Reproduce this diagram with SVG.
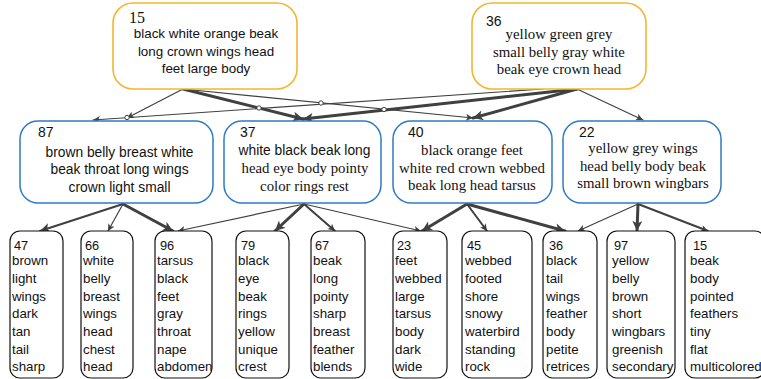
<svg xmlns="http://www.w3.org/2000/svg" width="761" height="379" viewBox="0 0 761 379">
  <style>
    .top { fill: #ffffff; stroke: #F4B630; stroke-width: 1.6; }
    .mid { fill: #ffffff; stroke: #2F7BC4; stroke-width: 1.5; }
    .leaf { fill: #ffffff; stroke: #111111; stroke-width: 1.2; }
    .sans { font-family: "Liberation Sans", Arial, sans-serif; fill: #111111; }
    .serif { font-family: "Liberation Serif", "Times New Roman", serif; fill: #111111; }
    .num { font-size: 14px; }
    .snum { font-size: 16px; }
    .ms { font-size: 13.8px; text-anchor: middle; }
    .mr { font-size: 14.8px; text-anchor: middle; }
    .lf { font-size: 13.3px; }
    .ln { font-size: 12.8px; }
    .e { fill: none; stroke: #404040; stroke-linecap: round; }
    .t1 { stroke-width: 1.2; }
    .t2 { stroke-width: 2; }
    .t3 { stroke-width: 3; }
    .hop { fill: #ffffff; stroke: #404040; stroke-width: 1; }
  </style>
  <defs>
    <marker id="arS" viewBox="0 0 10 10" refX="10" refY="5" markerUnits="userSpaceOnUse" markerWidth="8" markerHeight="7" orient="auto">
      <path d="M0,0 L10,5 L0,10 L2.5,5 z" fill="#404040"/>
    </marker>
    <marker id="arL" viewBox="0 0 10 10" refX="10" refY="5" markerUnits="userSpaceOnUse" markerWidth="11" markerHeight="10" orient="auto">
      <path d="M0,0 L10,5 L0,10 L2.5,5 z" fill="#404040"/>
    </marker>
  </defs>

  <!-- connectors -->
  <g id="connectors">
    <!-- upper level -->
    <line class="e t1" x1="183" y1="89" x2="127" y2="118" marker-end="url(#arS)"/>
    <line class="e t3" x1="183" y1="89" x2="303" y2="119" marker-end="url(#arL)"/>
    <line class="e t1" x1="183" y1="89" x2="473" y2="118" marker-end="url(#arS)"/>
    <line class="e t1" x1="543" y1="89" x2="93" y2="120" marker-end="url(#arS)"/>
    <line class="e t3" x1="577" y1="89" x2="303" y2="119" marker-end="url(#arL)"/>
    <line class="e t3" x1="577" y1="89" x2="473" y2="118" marker-end="url(#arL)"/>
    <line class="e t1" x1="577" y1="89" x2="643" y2="120" marker-end="url(#arS)"/>
    <!-- line hops -->
    <circle class="hop" cx="127" cy="117.5" r="2.2"/>
    <circle class="hop" cx="259" cy="108" r="2.2"/>
    <circle class="hop" cx="321" cy="103" r="2.2"/>
    <circle class="hop" cx="384" cy="109.5" r="2.2"/>
    <!-- lower level -->
    <line class="e t2" x1="123" y1="204" x2="40" y2="231" marker-end="url(#arL)"/>
    <line class="e t1" x1="123" y1="204" x2="108" y2="231" marker-end="url(#arS)"/>
    <line class="e t3" x1="123" y1="204" x2="173" y2="231" marker-end="url(#arL)"/>
    <line class="e t1" x1="304" y1="204" x2="178" y2="231" marker-end="url(#arS)"/>
    <line class="e t3" x1="304" y1="204" x2="275" y2="231" marker-end="url(#arL)"/>
    <line class="e t2" x1="304" y1="204" x2="335" y2="231" marker-end="url(#arS)"/>
    <line class="e t1" x1="304" y1="204" x2="421" y2="231" marker-end="url(#arS)"/>
    <line class="e t3" x1="467" y1="204" x2="422" y2="231" marker-end="url(#arL)"/>
    <line class="e t2" x1="467" y1="204" x2="487" y2="231" marker-end="url(#arS)"/>
    <line class="e t3" x1="467" y1="204" x2="565" y2="231" marker-end="url(#arL)"/>
    <line class="e t1" x1="638" y1="204" x2="578" y2="231" marker-end="url(#arS)"/>
    <line class="e t3" x1="638" y1="204" x2="637" y2="231" marker-end="url(#arL)"/>
    <line class="e t2" x1="638" y1="204" x2="708" y2="231" marker-end="url(#arS)"/>
  </g>

  <!-- top level -->
  <g id="n15top">
    <rect class="top" x="113" y="3" width="184" height="86" rx="20"/>
    <text class="serif snum" x="129" y="23">15</text>
    <text class="sans ms" x="206" y="38" style="font-size:13.4px">black white orange beak</text>
    <text class="sans ms" x="206" y="56" style="font-size:13.4px">long crown wings head</text>
    <text class="sans ms" x="206" y="73" style="font-size:13.4px">feet large body</text>
  </g>
  <g id="n36top">
    <rect class="top" x="472" y="3" width="174" height="86" rx="20"/>
    <text class="sans num" x="486" y="26">36</text>
    <text class="serif mr" x="559" y="39">yellow green grey</text>
    <text class="serif mr" x="559" y="57">small belly gray white</text>
    <text class="serif mr" x="559" y="74">beak eye crown head</text>
  </g>

  <!-- middle level -->
  <g id="n87">
    <rect class="mid" x="20" y="121" width="193" height="82" rx="18"/>
    <text class="sans num" x="38" y="137">87</text>
    <text class="sans ms" x="119.5" y="157">brown belly breast white</text>
    <text class="sans ms" x="119.5" y="174">beak throat long wings</text>
    <text class="sans ms" x="119.5" y="192">crown light small</text>
  </g>
  <g id="n37">
    <rect class="mid" x="224" y="121" width="157" height="82" rx="18"/>
    <text class="sans num" x="240" y="137">37</text>
    <text class="sans ms" x="304.5" y="155">white black beak long</text>
    <text class="serif mr" x="305" y="173">head eye body pointy</text>
    <text class="serif mr" x="304.5" y="191">color rings rest</text>
  </g>
  <g id="n40">
    <rect class="mid" x="393" y="121" width="159" height="82" rx="18"/>
    <text class="sans num" x="408" y="137">40</text>
    <text class="serif mr" x="472" y="155">black orange feet</text>
    <text class="serif mr" x="472" y="173">white red crown webbed</text>
    <text class="serif mr" x="472" y="190">beak long head tarsus</text>
  </g>
  <g id="n22">
    <rect class="mid" x="563" y="121" width="158" height="82" rx="18"/>
    <text class="sans num" x="579" y="137">22</text>
    <text class="serif mr" x="643" y="153">yellow grey wings</text>
    <text class="serif mr" x="643" y="171">head belly body beak</text>
    <text class="serif mr" x="643" y="188">small brown wingbars</text>
  </g>

  <!-- bottom level -->
  <g id="n47">
    <rect class="leaf" x="10" y="231" width="53" height="147" rx="10"/>
    <text class="sans ln" x="14" y="249.5">47</text>
    <text class="sans lf" x="12" y="265">brown</text>
    <text class="sans lf" x="12" y="283">light</text>
    <text class="sans lf" x="12" y="300.5">wings</text>
    <text class="sans lf" x="12" y="318">dark</text>
    <text class="sans lf" x="12" y="336">tan</text>
    <text class="sans lf" x="12" y="353.5">tail</text>
    <text class="sans lf" x="12" y="371">sharp</text>
  </g>
  <g id="n66">
    <rect class="leaf" x="81" y="231" width="52" height="147" rx="10"/>
    <text class="sans ln" x="85" y="249.5">66</text>
    <text class="sans lf" x="83" y="265">white</text>
    <text class="sans lf" x="83" y="283">belly</text>
    <text class="sans lf" x="83" y="300.5">breast</text>
    <text class="sans lf" x="83" y="318">wings</text>
    <text class="sans lf" x="83" y="336">head</text>
    <text class="sans lf" x="83" y="353.5">chest</text>
    <text class="sans lf" x="83" y="371">head</text>
  </g>
  <g id="n96">
    <rect class="leaf" x="155" y="231" width="57" height="147" rx="10"/>
    <text class="sans ln" x="160" y="249.5">96</text>
    <text class="sans lf" x="157" y="265">tarsus</text>
    <text class="sans lf" x="157" y="283">black</text>
    <text class="sans lf" x="157" y="300.5">feet</text>
    <text class="sans lf" x="157" y="318">gray</text>
    <text class="sans lf" x="157" y="336">throat</text>
    <text class="sans lf" x="157" y="353.5">nape</text>
    <text class="sans lf" x="157" y="371">abdomen</text>
  </g>
  <g id="n79">
    <rect class="leaf" x="236" y="231" width="53" height="147" rx="10"/>
    <text class="sans ln" x="241" y="249.5">79</text>
    <text class="sans lf" x="238" y="265">black</text>
    <text class="sans lf" x="238" y="283">eye</text>
    <text class="sans lf" x="238" y="300.5">beak</text>
    <text class="sans lf" x="238" y="318">rings</text>
    <text class="sans lf" x="238" y="336">yellow</text>
    <text class="sans lf" x="238" y="353.5">unique</text>
    <text class="sans lf" x="238" y="371">crest</text>
  </g>
  <g id="n67">
    <rect class="leaf" x="311" y="231" width="54" height="147" rx="10"/>
    <text class="sans ln" x="315" y="249.5">67</text>
    <text class="sans lf" x="313" y="265">beak</text>
    <text class="sans lf" x="313" y="283">long</text>
    <text class="sans lf" x="313" y="300.5">pointy</text>
    <text class="sans lf" x="313" y="318">sharp</text>
    <text class="sans lf" x="313" y="336">breast</text>
    <text class="sans lf" x="313" y="353.5">feather</text>
    <text class="sans lf" x="313" y="371">blends</text>
  </g>
  <g id="n23">
    <rect class="leaf" x="393" y="231" width="54" height="147" rx="10"/>
    <text class="sans ln" x="397" y="249.5">23</text>
    <text class="sans lf" x="395" y="265">feet</text>
    <text class="sans lf" x="395" y="283">webbed</text>
    <text class="sans lf" x="395" y="300.5">large</text>
    <text class="sans lf" x="395" y="318">tarsus</text>
    <text class="sans lf" x="395" y="336">body</text>
    <text class="sans lf" x="395" y="353.5">dark</text>
    <text class="sans lf" x="395" y="371">wide</text>
  </g>
  <g id="n45">
    <rect class="leaf" x="462" y="231" width="70" height="147" rx="10"/>
    <text class="sans ln" x="467" y="249.5">45</text>
    <text class="sans lf" x="465" y="265">webbed</text>
    <text class="sans lf" x="465" y="283">footed</text>
    <text class="sans lf" x="465" y="300.5">shore</text>
    <text class="sans lf" x="465" y="318">snowy</text>
    <text class="sans lf" x="465" y="336">waterbird</text>
    <text class="sans lf" x="465" y="353.5">standing</text>
    <text class="sans lf" x="465" y="371">rock</text>
  </g>
  <g id="n36">
    <rect class="leaf" x="543" y="231" width="54" height="147" rx="10"/>
    <text class="sans ln" x="549" y="249.5">36</text>
    <text class="sans lf" x="546" y="265">black</text>
    <text class="sans lf" x="546" y="283">tail</text>
    <text class="sans lf" x="546" y="300.5">wings</text>
    <text class="sans lf" x="546" y="318">feather</text>
    <text class="sans lf" x="546" y="336">body</text>
    <text class="sans lf" x="546" y="353.5">petite</text>
    <text class="sans lf" x="546" y="371">retrices</text>
  </g>
  <g id="n97">
    <rect class="leaf" x="607" y="231" width="68" height="147" rx="10"/>
    <text class="sans ln" x="614" y="249.5">97</text>
    <text class="sans lf" x="612" y="265">yellow</text>
    <text class="sans lf" x="612" y="283">belly</text>
    <text class="sans lf" x="612" y="300.5">brown</text>
    <text class="sans lf" x="612" y="318">short</text>
    <text class="sans lf" x="612" y="336">wingbars</text>
    <text class="sans lf" x="612" y="353.5">greenish</text>
    <text class="sans lf" x="612" y="371">secondary</text>
  </g>
  <g id="n15">
    <rect class="leaf" x="685" y="231" width="80" height="147" rx="10"/>
    <text class="sans ln" x="693" y="249.5">15</text>
    <text class="sans lf" x="690" y="265">beak</text>
    <text class="sans lf" x="690" y="283">body</text>
    <text class="sans lf" x="690" y="300.5">pointed</text>
    <text class="sans lf" x="690" y="318">feathers</text>
    <text class="sans lf" x="690" y="336">tiny</text>
    <text class="sans lf" x="690" y="353.5">flat</text>
    <text class="sans lf" x="690" y="371">multicolored</text>
  </g>
</svg>
